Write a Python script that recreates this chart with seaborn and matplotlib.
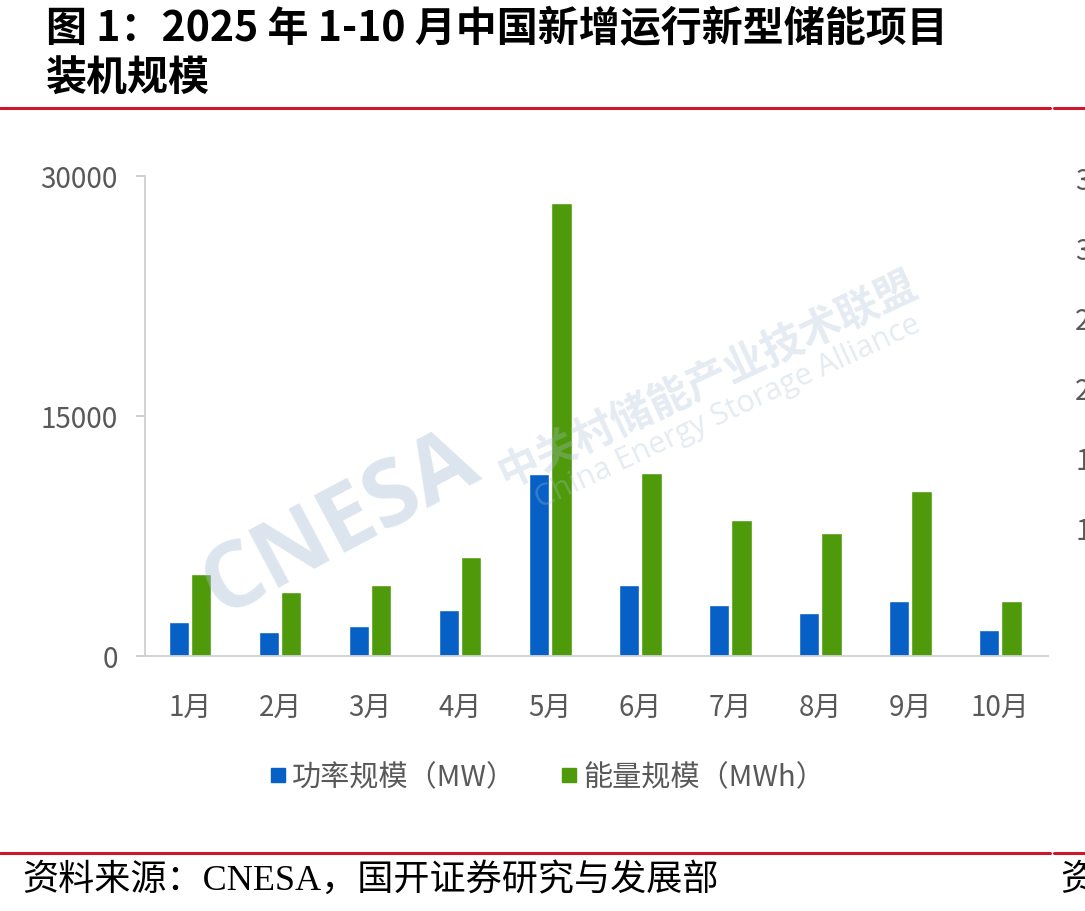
import pandas as pd
import matplotlib.pyplot as plt
import seaborn as sns
from matplotlib.lines import Line2D

# 数据：2025年1-10月新增运行新型储能装机
months = ['1月', '2月', '3月', '4月', '5月', '6月', '7月', '8月', '9月', '10月']
power_mw = [2150, 1500, 1880, 2880, 11360, 4440, 3170, 2710, 3450, 1620]
energy_mwh = [5100, 4000, 4440, 6210, 28340, 11420, 8500, 7670, 10310, 3450]
series_names = ['功率规模（MW）', '能量规模（MWh）']
y_ticks = [0, 15000, 30000]
right_cut_labels = ['3', '3', '2', '2', '1', '1']

df = pd.concat([
    pd.DataFrame({'月份': months, '值': power_mw, '类型': series_names[0]}),
    pd.DataFrame({'月份': months, '值': energy_mwh, '类型': series_names[1]}),
])

sns.set_style('white')
plt.rcParams['font.family'] = ['Noto Sans CJK SC', 'DejaVu Sans']

W, H = 1085, 912
fig = plt.figure(figsize=(W / 100, H / 100), dpi=100)
ax = fig.add_axes([145 / W, 1 - 657 / H, (1048 - 145) / W, (657 - 177) / H])

blue = '#0660c6'
green = '#4f9a0a'
gray_txt = '#595959'
red = '#d0142c'

sns.barplot(data=df, x='月份', y='值', hue='类型', palette=[blue, green],
            width=0.5, gap=0.1, ax=ax, saturation=1)

ax.set_ylim(0, 30000)
ax.set_xlim(-0.5, 9.53)
ax.set_yticks(y_ticks)
ax.set_yticklabels([str(v) for v in y_ticks])
ax.set_xlabel('')
ax.set_ylabel('')
for s in ['top', 'right']:
    ax.spines[s].set_visible(False)
for s in ['left', 'bottom']:
    ax.spines[s].set_color('#d0d0d0')
    ax.spines[s].set_linewidth(1.3)
ax.tick_params(axis='y', length=6.5, width=1.2, color='#c8c8c8', pad=13,
               labelsize=20, labelcolor=gray_txt, left=True)
ax.tick_params(axis='x', length=0, pad=26, labelsize=20, labelcolor=gray_txt)

# 图例
handles = [Line2D([], [], marker='s', linestyle='', markersize=10, color=c) for c in (blue, green)]
ax.legend(handles, series_names, loc='center', bbox_to_anchor=(0.503, 1 - 778 / H),
          bbox_transform=fig.transFigure, ncol=2, frameon=False, fontsize=21,
          handletextpad=0.1, columnspacing=1.4, labelcolor=gray_txt, handlelength=0.8)

# 水印
wm = '#a9bdd4'
fig.text(340 / W, 1 - 525 / H, 'CNESA', fontsize=66, fontweight='bold', color=wm,
         alpha=0.4, rotation=28, ha='center', va='center', family=['Open Sans', 'DejaVu Sans'])
fig.text(708 / W, 1 - 380 / H, '中关村储能产业技术联盟', fontsize=30, fontweight='bold',
         color=wm, alpha=0.3, rotation=25, ha='center', va='center')
fig.text(728 / W, 1 - 412 / H, 'China Energy Storage Alliance', fontsize=22,
         color=wm, alpha=0.3, rotation=25, ha='center', va='center',
         family=['Open Sans', 'DejaVu Sans'])

# 标题
fig.text(46 / W, 1 - 8 / H, '图 1：2025 年 1-10 月中国新增运行新型储能项目', fontsize=29.5,
         fontweight='bold', color='black', ha='left', va='top')
fig.text(46 / W, 1 - 58 / H, '装机规模', fontsize=29.5, fontweight='bold', color='black',
         ha='left', va='top')

# 红线
fig.add_artist(Line2D([0, 1050 / W], [1 - 109 / H] * 2, color=red, lw=2.2))
fig.add_artist(Line2D([1054 / W, 1], [1 - 109 / H] * 2, color=red, lw=2.2))
fig.add_artist(Line2D([0, 1050 / W], [1 - 854 / H] * 2, color=red, lw=2.2))
fig.add_artist(Line2D([1054 / W, 1], [1 - 854 / H] * 2, color=red, lw=2.2))

# 资料来源
fig.text(22 / W, 1 - 880 / H, '资料来源：CNESA，国开证券研究与发展部', fontsize=26,
         color='black', ha='left', va='center',
         family=['Liberation Serif', 'Noto Sans CJK SC'])
fig.text(1060 / W, 1 - 880 / H, '资', fontsize=26, color='black', ha='left', va='center')

# 右侧被裁切的相邻图表刻度
for i, t in enumerate(right_cut_labels):
    fig.text(1075 / W, 1 - (182 + i * 70) / H, t, fontsize=20, color=gray_txt,
             ha='left', va='center')

fig.savefig('out.png', dpi=100)
